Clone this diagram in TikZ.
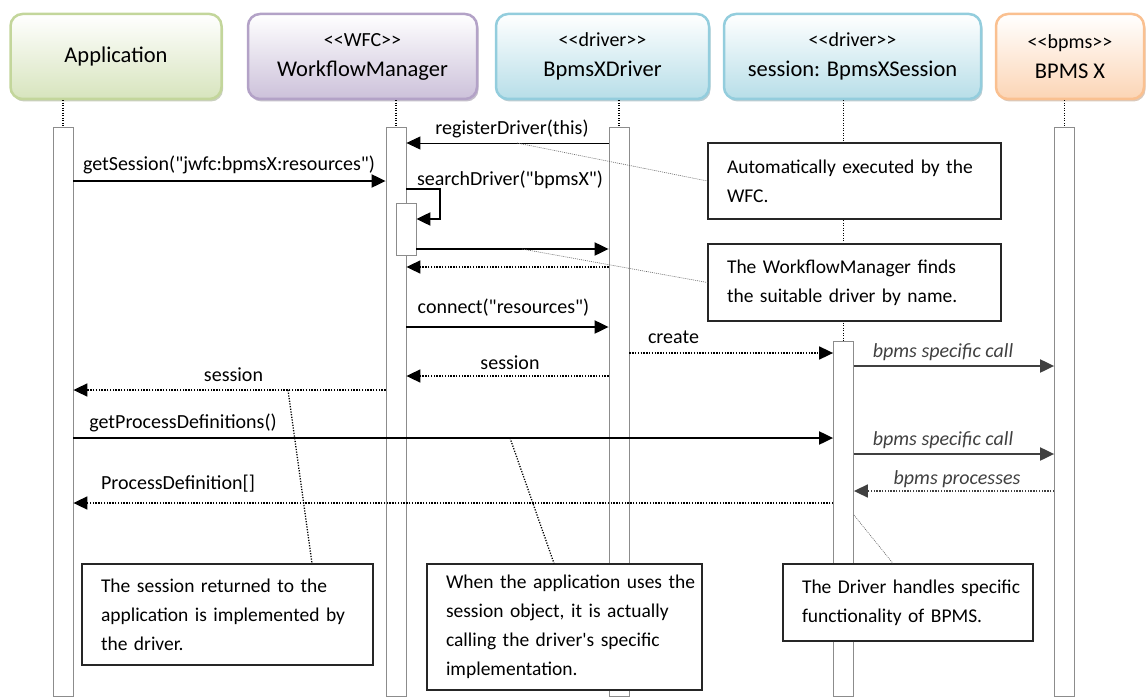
\documentclass[tikz,border=0pt]{standalone}
\usepackage{fontspec}
\setmainfont{Carlito}[Ligatures=TeXOff]
\usetikzlibrary{arrows.meta,shadows}
\definecolor{appline}{RGB}{195,214,155}
\definecolor{appfill}{RGB}{215,228,189}
\definecolor{wfmline}{RGB}{179,162,199}
\definecolor{wfmfill}{RGB}{204,193,218}
\definecolor{drvline}{RGB}{147,205,221}
\definecolor{drvfill}{RGB}{183,222,232}
\definecolor{bpmsline}{RGB}{250,192,144}
\definecolor{bpmsfill}{RGB}{252,213,181}
\definecolor{callgray}{RGB}{64,64,64}

\begin{document}
\begin{tikzpicture}[x=1pt,y=-1pt,
    head/.style={rounded corners=12pt, line width=2.5pt, minimum height=85pt,
      align=center, font=\fontsize{22.5}{30}\selectfont, inner sep=0pt},
    headcol/.style={draw=#1line, top color=white, bottom color=#1fill,
      drop shadow={shadow xshift=1.5pt, shadow yshift=-2.5pt, fill=#1line!70!black, opacity=.45}},
    bar/.style={draw=black!45, fill=white, line width=0.8pt, minimum width=20pt, inner sep=0pt},
    life/.style={line width=1.2pt, dash pattern=on 1pt off 1.5pt},
    call/.style={line width=2pt, -{Triangle[length=14pt,width=13pt]}},
    reply/.style={call, line width=1.7pt, dash pattern=on 1.4pt off 1.4pt},
    lbl/.style={font=\fontsize{20}{24}\selectfont, inner sep=0pt},
    blbl/.style={font=\fontsize{20}{24}\selectfont\itshape, text=callgray, inner sep=0pt},
    note/.style={draw=black!85, fill=white, line width=1.2pt, align=left,
      font=\fontsize{19.5}{29}\selectfont, inner xsep=19pt, inner ysep=0pt},
    thinlink/.style={black!60, line width=0.6pt, dash pattern=on 1pt off 1pt},
    thicklink/.style={line width=1.3pt, dash pattern=on 1.2pt off 1.5pt}]
    \useasboundingbox (0,0) rectangle (1147,698);

    \node[head, headcol=app, minimum width=211pt] (app) at (116,56.5) {Application};
    \node[head, headcol=wfm, minimum width=229pt] (wfm) at (362.5,56.5)
        {{\fontsize{20}{30}\selectfont <<WFC>>}\\WorkflowManager};
    \node[head, headcol=drv, minimum width=213pt] (drv) at (602.5,56.5)
        {{\fontsize{20}{30}\selectfont <<driver>>}\\BpmsXDriver};
    \node[head, headcol=drv, minimum width=257pt] (ses) at (852.5,56.5)
        {{\fontsize{20}{30}\selectfont <<driver>>}\\session: BpmsXSession};
    \node[head, headcol=bpms, minimum width=148pt] (bpms) at (1070,56.5)
        {{\fontsize{20}{30}\selectfont <<bpms>>}\\BPMS X};

    \foreach \nm/\x in {app/63,wfm/396,drv/619,bpms/1064.5} {
        \node[bar, minimum height=569pt] (\nm-bar) at (\x,411.5) {};
        \draw[life] (\nm.south -| \nm-bar) -- (\nm-bar.north);
    }
    \node[bar, minimum height=355pt] (ses-bar) at (843.5,518.5) {};
    \draw[life] (ses.south -| ses-bar) -- (ses-bar.north);
    \node[bar, minimum height=52pt] (nest-bar) at (406,229) {};

    \draw[call, line width=1pt] (drv-bar.west |- 0,143) -- (wfm-bar.east |- 0,143);
    \draw[call] (app-bar.east |- 0,181) -- (wfm-bar.west |- 0,181);
    \draw[call] (wfm-bar.east |- 0,189) -- ++(34,0) |- (nest-bar.east |- 0,219);
    \draw[call] (nest-bar.east |- 0,249) -- (drv-bar.west |- 0,249);
    \draw[reply] (drv-bar.west |- 0,267) -- (wfm-bar.east |- 0,267);
    \draw[call] (wfm-bar.east |- 0,327) -- (drv-bar.west |- 0,327);
    \draw[reply] (drv-bar.east |- 0,353) -- (ses-bar.west |- 0,353);
    \draw[reply] (drv-bar.west |- 0,376) -- (wfm-bar.east |- 0,376);
    \draw[reply] (wfm-bar.west |- 0,390) -- (app-bar.east |- 0,390);
    \draw[call, callgray] (ses-bar.east |- 0,366) -- (bpms-bar.west |- 0,366);
    \draw[call] (app-bar.east |- 0,438) -- (ses-bar.west |- 0,438);
    \draw[call, callgray] (ses-bar.east |- 0,454) -- (bpms-bar.west |- 0,454);
    \draw[reply, callgray] (bpms-bar.west |- 0,491) -- (ses-bar.east |- 0,491);
    \draw[reply] (ses-bar.west |- 0,503) -- (app-bar.east |- 0,503);

    \node[lbl] (l-register) at (512,129) {registerDriver(this)};
    \node[lbl] (l-getsession) at (229,165) {getSession("jwfc:bpmsX:resources")};
    \node[lbl] (l-search) at (510,180) {searchDriver("bpmsX")};
    \node[lbl] (l-connect) at (503.5,308) {connect("resources")};
    \node[lbl] (l-create) at (673.5,337) {create};
    \node[lbl] (l-session1) at (510,363) {session};
    \node[lbl] (l-session2) at (233.5,375) {session};
    \node[blbl] (l-call1) at (943,352) {bpms specific call};
    \node[lbl] (l-getproc) at (183,423) {getProcessDefinitions()};
    \node[blbl] (l-call2) at (943,440) {bpms specific call};
    \node[blbl] (l-procs) at (957,479) {bpms processes};
    \node[lbl] (l-procdef) at (178,484) {ProcessDefinition[]};

    \node[note, text width=255pt, minimum height=76pt] (n1) at (854.5,181)
        {Automatically executed by the\\WFC.};
    \node[note, text width=255pt, minimum height=77pt] (n2) at (854.5,282.5)
        {The WorkflowManager finds\\the suitable driver by name.};
    \node[note, text width=253pt, minimum height=101pt] (n3) at (227.5,614.5)
        {The session returned to the\\application is implemented by\\the driver.};
    \node[note, text width=237pt, minimum height=126pt] (n4) at (564.5,627)
        {\mbox{When the application uses the}\\\mbox{session object, it is actually}\\
         calling the driver's specific\\implementation.};
    \node[note, text width=212pt, minimum height=77pt] (n5) at (908,602.5)
        {\mbox{The Driver handles specific}\\functionality of BPMS.};

    \coordinate (c1) at (517,143);
    \coordinate (c2) at (522,249);
    \coordinate (c3) at (288,390);
    \coordinate (c4) at (510,438);
    \coordinate (c5) at (ses-bar.east |- 0,515);
    \draw[thinlink] (c1) -- (n1.west);
    \draw[thinlink] (c2) -- (n2.west);
    \draw[thicklink] (c3) -- (312,0 |- n3.north);
    \draw[thicklink] (c4) -- (554,0 |- n4.north);
    \draw[thinlink] (c5) -- (893,0 |- n5.north);
\end{tikzpicture}
\end{document}
